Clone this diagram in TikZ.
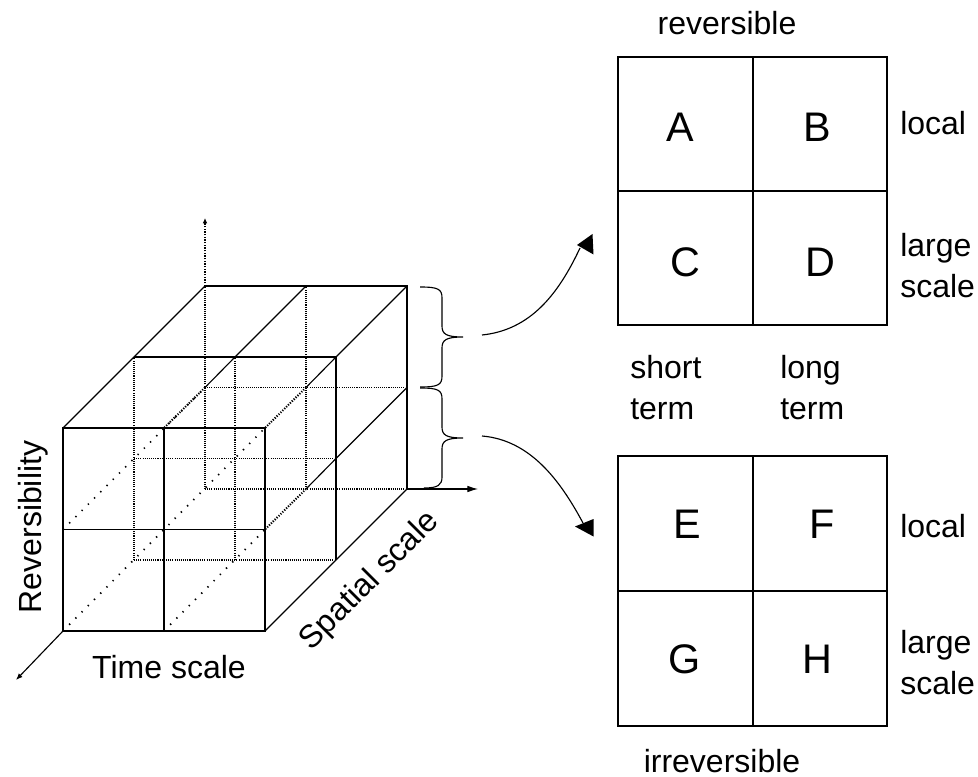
\documentclass[tikz,border=0pt]{standalone}
\usepackage{fontspec}
\setmainfont{Liberation Sans}
\usetikzlibrary{arrows.meta}
\begin{document}
\begin{tikzpicture}[x=0.75pt,y=-0.75pt,
  solidline/.style={line width=1.2pt},
  thinline/.style={line width=0.85pt},
  gridline/.style={line width=1pt,dash pattern=on 0.8pt off 0.8pt},
  sparse/.style={line width=1.3pt,dash pattern=on 1pt off 5.6pt},
  ticked/.style={line width=1.5pt,dash pattern=on 0.9pt off 1.1pt},
  lbl/.style={font=\fontsize{24}{30.5}\selectfont,inner sep=0pt,align=left},
  letter/.style={font=\fontsize{31}{36}\selectfont,inner sep=0pt},
  boxline/.style={line width=1.1pt},
  head/.style={fill=black}
]
\fill[white] (0,0) rectangle (978,777);
\useasboundingbox (0,0) rectangle (978,777);

% cube lattice points P(ijk): i time, j reversibility, k spatial depth
\foreach \i in {0,1,2}{\foreach \j in {0,1,2}{\foreach \k in {0,1,2}{
  \coordinate (P\i\j\k) at ({63+101*\i+71*\k},{631-101.5*\j-71*\k});
}}}

% hidden grid lines (dotted)
\draw[gridline] (P001)--(P021) (P101)--(P121) (P002)--(P022) (P102)--(P122);
\draw[gridline] (P011)--(P211) (P001)--(P201) (P012)--(P212) (P002)--(P202);
% sparse dotted depth lines
\draw[sparse] (P010)--(P012) (P000)--(P220) (P100)--(P210);
% ticked depth lines
\draw[ticked] (P012)--(P120) (P112)--(P220) (P102)--(P210);

% solid edges
\draw[solidline] (P000) rectangle (P220);
\draw[solidline] (P100)--(P120) (P010)--(P210);
\draw[thinline] (P020)--(P022);
\draw[solidline] (P022)--(P222)--(P202);
\draw[solidline] (P021)--(P221)--(P201);
\draw[thinline] (P122)--(P121)--(P012);
\draw[thinline] (P222)--(P221)--(P112);
\draw[thinline] (P212)--(P211)--(P102);
\draw[thinline] (P200)--(P202);

% axes
\coordinate (yend) at (205,218);
\coordinate (xend) at (478,489);
\coordinate (zend) at (16,680);
\draw[ticked,-{Latex[length=4pt,width=3.5pt]}] (P022)--(yend);
\draw[thinline,-{Latex[length=8pt,width=5pt]}] (P202)--(xend);
\draw[thinline,-{Latex[length=5pt,width=4pt]}] (P000)--(zend);

% axis labels
\node[lbl,rotate=90,anchor=base] (rev) at (41,527) {Reversibility};
\node[lbl,anchor=base] (time) at (169,678) {Time scale};
\node[lbl,rotate=45,anchor=base] (spat) at (376,587) {Spatial scale};

% braces
\coordinate (ubt) at (463,337);
\coordinate (lbt) at (463,438);
\draw[thinline] (420,287) .. controls (438,287) and (442,289) .. (442,298) -- (442,326)
  .. controls (442,334) and (446,337) .. (ubt)
  .. controls (446,337) and (442,340) .. (442,348) -- (442,376)
  .. controls (442,385) and (438,387) .. (420,387);
\draw[thinline] (420,388) .. controls (438,388) and (442,390) .. (442,399) -- (442,427)
  .. controls (442,435) and (446,438) .. (lbt)
  .. controls (446,438) and (442,441) .. (442,449) -- (442,477)
  .. controls (442,485) and (438,488) .. (424,488);

% curved connectors
\coordinate (ust) at (482,335);
\coordinate (uend) at (580,248);
\coordinate (lst) at (482,436);
\coordinate (lend) at (583,523);
\draw[thinline] (ust) .. controls (530,330) and (558,295) .. (uend);
\draw[thinline] (lst) .. controls (530,440) and (560,480) .. (lend);
\fill[head] (592.5,234) -- (593.5,254.5) -- (577,245) -- cycle;
\fill[head] (593.5,519) -- (593.5,536.5) -- (575,526.5) -- cycle;

% upper matrix
\draw[boxline] (618,57) rectangle (887,325);
\draw[boxline] (753,57)--(753,325) (618,191)--(887,191);
\node[letter] (A) at (680,127) {A};
\node[letter] (B) at (817,127) {B};
\node[letter] (C) at (685,262) {C};
\node[letter] (D) at (820,262) {D};
\node[lbl,anchor=base] (revl) at (727,35) {reversible};
\node[lbl,anchor=base west] (loc1) at (900,135) {local};
\node[lbl,anchor=north west] (ls1) at (900,233) {large\\scale};
\node[lbl,anchor=north west] (st) at (630,355) {short\\term};
\node[lbl,anchor=north west] (lt) at (780,355) {long\\term};

% lower matrix
\draw[boxline] (618,456) rectangle (887,726);
\draw[boxline] (753,456)--(753,726) (618,591)--(887,591);
\node[letter] (E) at (687,524) {E};
\node[letter] (F) at (822,524) {F};
\node[letter] (G) at (685,659) {G};
\node[letter] (H) at (817,659) {H};
\node[lbl,anchor=base west] (loc2) at (900,537) {local};
\node[lbl,anchor=north west] (ls2) at (900,630) {large\\scale};
\node[lbl,anchor=base] (irr) at (722,772) {irreversible};
\end{tikzpicture}
\end{document}
